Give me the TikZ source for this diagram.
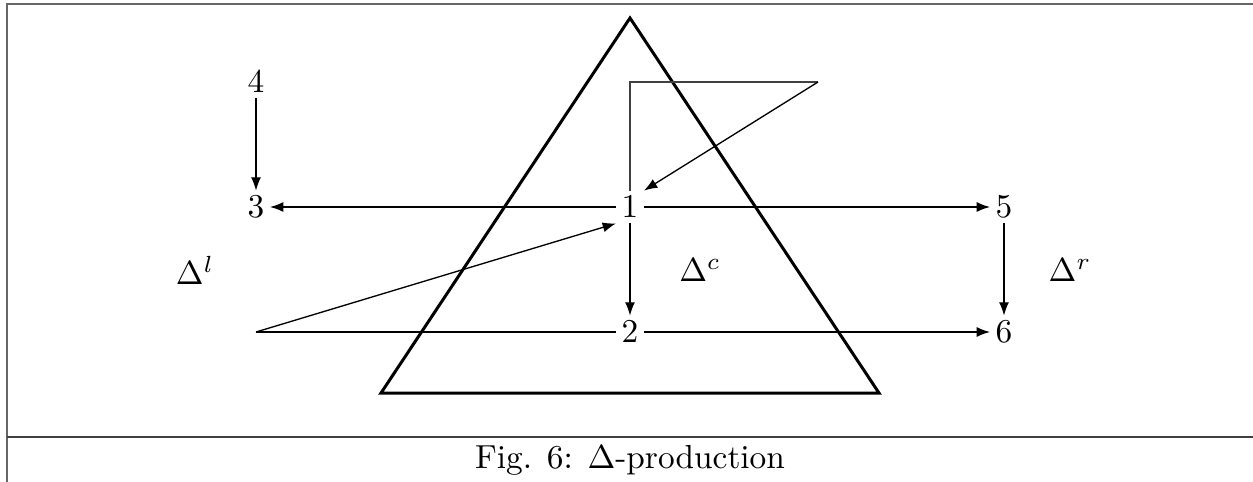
\documentclass[tikz,border=0pt]{standalone}
\usetikzlibrary{arrows.meta}
\begin{document}
\begin{tikzpicture}[x=0.3pt,y=-0.3pt,
  lab/.style={inner sep=1.5pt,font=\normalsize},
  conn/.style={line width=0.4pt},
  arr/.style={conn,-{Latex[length=4pt,width=3pt]}},
  frame/.style={draw=black!60,line width=0.8pt},
  tri/.style={line width=0.9pt}]
\useasboundingbox (0,0) rectangle (1253,482);
% frame
\draw[frame] (1253,4) -- (7,4) -- (7,482);
\draw[line width=0.8pt,black!75] (7,437) -- (1253,437);
% triangle
\draw[tri] (630,18) -- (879,393) -- (381,393) -- cycle;
% nodes
\node[lab] (n4) at (256,82) {$4$};
\node[lab] (n3) at (256,207) {$3$};
\node[lab] (n1) at (630,207) {$1$};
\node[lab] (n5) at (1004,207) {$5$};
\node[lab] (n2) at (630,332) {$2$};
\node[lab] (n6) at (1004,332) {$6$};
\node[lab] (dl) at (195,270) {$\Delta^l$};
\node[lab] (dc) at (700,270) {$\Delta^c$};
\node[lab] (dr) at (1070,270) {$\Delta^r$};
\coordinate (c1) at (630,82);
\coordinate (c2) at (818,82);
\coordinate (c3) at (256,332);
% connectors
\draw[arr] (n4) -- (n3);
\draw[arr] (n1) -- (n3);
\draw[arr] (n1) -- (n5);
\draw[arr] (n1) -- (n2);
\draw[arr] (n5) -- (n6);
\draw[arr] (n2) -- (n6);
\draw[conn,black!75] (n1) -- (c1) -- (c2);
\draw[arr] (c2) -- (n1.north east);
\draw[conn] (n2) -- (c3);
\draw[arr] (c3) -- (n1.south west);
% caption
\node (cap) at (630,460) {Fig. 6: $\Delta$-production};
\end{tikzpicture}
\end{document}
